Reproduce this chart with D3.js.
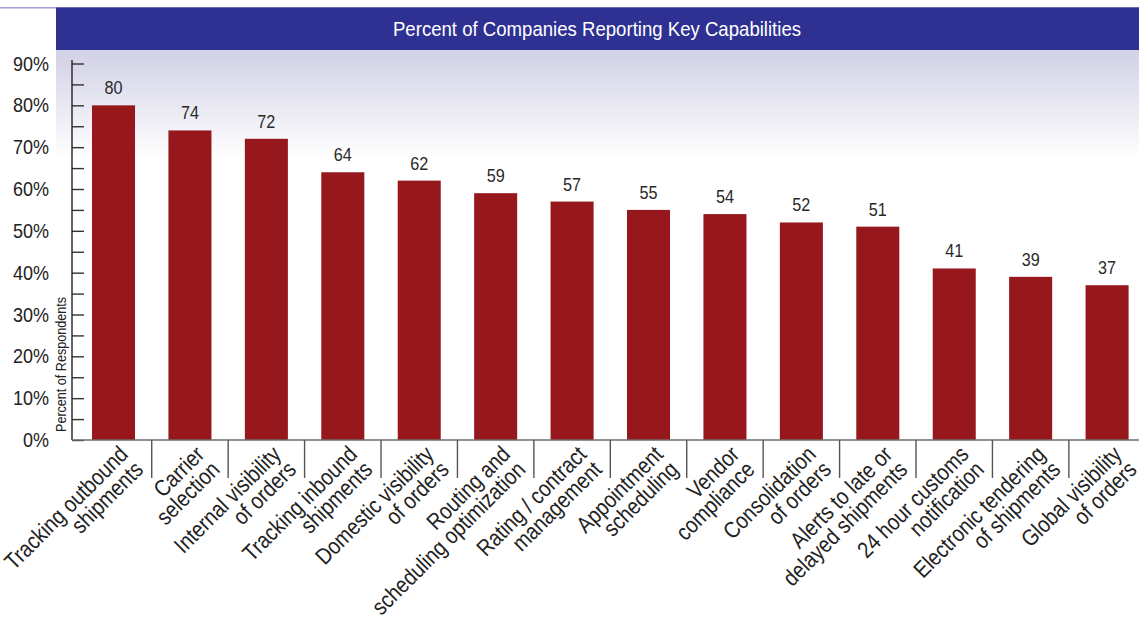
<!DOCTYPE html>
<html>
<head>
<meta charset="utf-8">
<script src="https://cdn.jsdelivr.net/npm/d3@7/dist/d3.min.js"></script>
<style>
  html, body { margin: 0; padding: 0; background: #fff; }
  svg { display: block; }
  text { font-family: "Liberation Sans", Arial, sans-serif; }
</style>
</head>
<body>
<svg id="chart" width="1139" height="624"></svg>
<script>
// Capability categories and their two label lines
const categories = [
  "Tracking outbound shipments",
  "Carrier selection",
  "Internal visibility of orders",
  "Tracking inbound shipments",
  "Domestic visibility of orders",
  "Routing and scheduling optimization",
  "Rating / contract management",
  "Appointment scheduling",
  "Vendor compliance",
  "Consolidation of orders",
  "Alerts to late or delayed shipments",
  "24 hour customs notification",
  "Electronic tendering of shipments",
  "Global visibility of orders"
];
const labelLines = [
  ["Tracking outbound", "shipments"],
  ["Carrier", "selection"],
  ["Internal visibility", "of orders"],
  ["Tracking inbound", "shipments"],
  ["Domestic visibility", "of orders"],
  ["Routing and", "scheduling optimization"],
  ["Rating / contract", "management"],
  ["Appointment", "scheduling"],
  ["Vendor", "compliance"],
  ["Consolidation", "of orders"],
  ["Alerts to late or", "delayed shipments"],
  ["24 hour customs", "notification"],
  ["Electronic tendering", "of shipments"],
  ["Global visibility", "of orders"]
];
// Percent of respondents reporting each capability
const values = [80, 74, 72, 64, 62, 59, 57, 55, 54, 52, 51, 41, 39, 37];
const yTicksMinor = [0, 5, 10, 15, 20, 25, 30, 35, 40, 45, 50, 55, 60, 65, 70, 75, 80, 85, 90];
const yTickLabels = [0, 10, 20, 30, 40, 50, 60, 70, 80, 90];
const title = "Percent of Companies Reporting Key Capabilities";
const yAxisTitle = "Percent of Respondents";

const W = 1139, H = 624;
const svg = d3.select("#chart");

// Text is set in a slightly condensed face: squeeze horizontally
const SQ = 0.9;
const SQ_LABEL = 0.86;

// Background gradient under the title band
const defs = svg.append("defs");
const grad = defs.append("linearGradient")
  .attr("id", "bgGrad").attr("x1", 0).attr("y1", 0).attr("x2", 0).attr("y2", 1);
grad.append("stop").attr("offset", "0%").attr("stop-color", "#d1d0e6");
grad.append("stop").attr("offset", "100%").attr("stop-color", "#ffffff");

svg.append("rect").attr("x", 56).attr("y", 50).attr("width", W - 56).attr("height", 108)
  .attr("fill", "url(#bgGrad)");

// Thin rule across the top and the title band
svg.append("rect").attr("x", 0).attr("y", 7).attr("width", W).attr("height", 1.5)
  .attr("fill", "#9f9ed4");
svg.append("rect").attr("x", 56).attr("y", 7.5).attr("width", W - 56).attr("height", 42.5)
  .attr("fill", "#2e3192");
svg.append("text")
  .attr("transform", "translate(597,36) scale(0.93,1)")
  .attr("text-anchor", "middle")
  .attr("fill", "#ffffff")
  .style("font-size", "20px")
  .text(title);

// Scales
const y = d3.scaleLinear().domain([0, 90]).range([440, 63.5]);
const x = d3.scaleBand()
  .domain(categories)
  .range([75.3, 1145.3])
  .paddingInner(0.437)
  .paddingOuter(0.2185);
const step = x.step();
const slotStart = 75.3;

// Y axis: ticks pointing right every 5%
const axisG = svg.append("g").attr("transform", "translate(72,0)");
axisG.call(d3.axisRight(y).tickValues(yTicksMinor).tickSize(12).tickFormat("").tickSizeOuter(0));
axisG.select(".domain").remove();
axisG.selectAll(".tick line").attr("stroke", "#333").attr("stroke-width", 1.4);
axisG.append("line").attr("x1", 0).attr("x2", 0).attr("y1", 60).attr("y2", 440)
  .attr("stroke", "#222").attr("stroke-width", 1.4);

// Y tick labels on the left of the axis
svg.append("g").selectAll("text")
  .data(yTickLabels)
  .join("text")
  .attr("transform", d => `translate(49,${y(d) + 7}) scale(${SQ},1)`)
  .attr("text-anchor", "end")
  .attr("fill", "#222")
  .style("font-size", "20px")
  .text(d => d + "%");

svg.append("text")
  .attr("transform", "translate(66,432) rotate(-90) scale(0.9,1)")
  .attr("text-anchor", "start")
  .attr("fill", "#222")
  .style("font-size", "14px")
  .text(yAxisTitle);

// Bars
svg.append("g").selectAll("rect")
  .data(values)
  .join("rect")
  .attr("x", (d, i) => x(categories[i]))
  .attr("y", d => y(d))
  .attr("width", x.bandwidth())
  .attr("height", d => y(0) - y(d))
  .attr("fill", "#96171c");

// Value labels above bars
svg.append("g").selectAll("text")
  .data(values)
  .join("text")
  .attr("transform", (d, i) =>
    `translate(${x(categories[i]) + x.bandwidth() / 2},${y(d) - 11}) scale(${SQ},1)`)
  .attr("text-anchor", "middle")
  .attr("fill", "#2a2a2a")
  .style("font-size", "18px")
  .text(d => d);

// Baseline and category separators
svg.append("line").attr("x1", 72).attr("x2", W).attr("y1", 440).attr("y2", 440)
  .attr("stroke", "#6e6e6e").attr("stroke-width", 1.6);
svg.append("g").selectAll("line")
  .data(d3.range(1, categories.length))
  .join("line")
  .attr("x1", k => slotStart + step * k)
  .attr("x2", k => slotStart + step * k)
  .attr("y1", 440).attr("y2", 478)
  .attr("stroke", "#555").attr("stroke-width", 1.4);

// Rotated two-line category labels
const lab = svg.append("g").selectAll("g")
  .data(categories)
  .join("g")
  .attr("transform", d =>
    `translate(${x(d) + x.bandwidth() / 2 + 31},471) rotate(-45) scale(${SQ_LABEL},1)`);
lab.each(function(d, i) {
  const lines = labelLines[i];
  const g = d3.select(this);
  lines.forEach((ln, j) => {
    g.append("text")
      .attr("x", 0)
      .attr("y", (j - (lines.length - 1)) * 21.5)
      .attr("text-anchor", "end")
      .attr("fill", "#222")
      .style("font-size", "23px")
      .text(ln);
  });
});
</script>
</body>
</html>
